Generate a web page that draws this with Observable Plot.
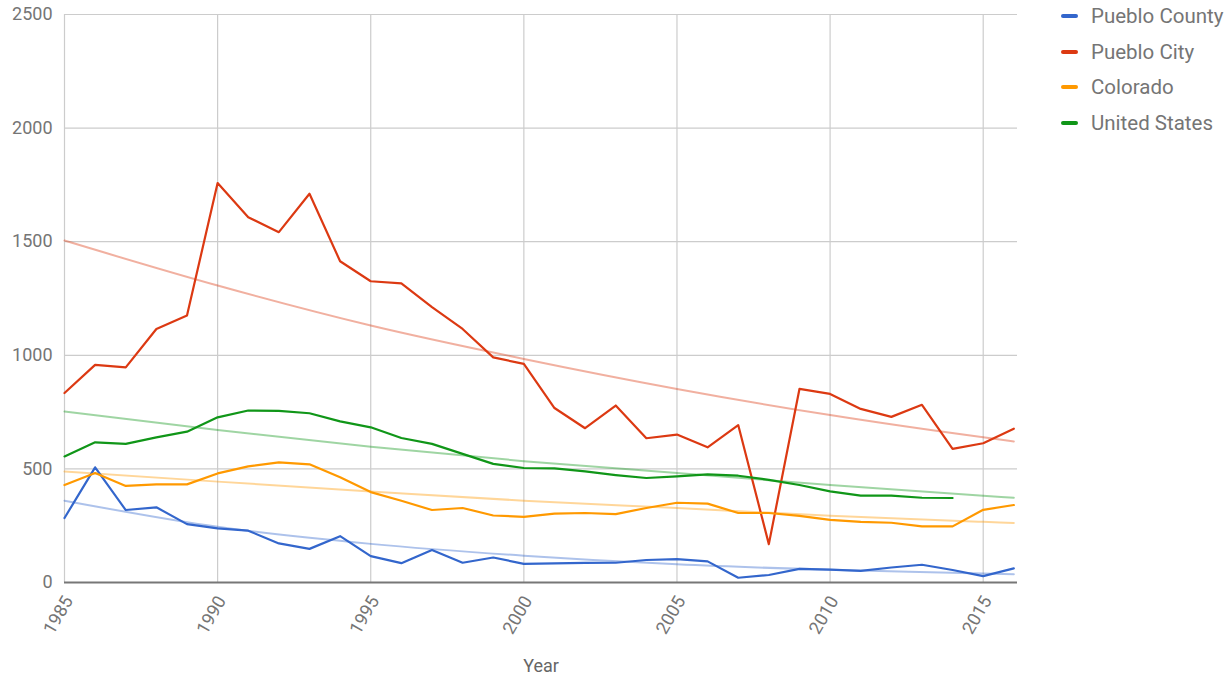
<!DOCTYPE html>
<html>
<head>
<meta charset="utf-8">
<script src="https://cdn.jsdelivr.net/npm/d3@7"></script>
<script src="https://cdn.jsdelivr.net/npm/@observablehq/plot@0.6"></script>
<style>
  body { margin: 0; background: #fff; font-family: Roboto, sans-serif; }
  #wrap { position: relative; width: 1232px; height: 675px; overflow: hidden; }
  #chart { position: absolute; left: 0; top: 0; }
  #legend { position: absolute; left: 1061px; top: -2px; }
  .item { display: flex; align-items: center; height: 35.7px; font-size: 20.5px; color: #757575; white-space: nowrap; }
  .sw { width: 17px; height: 4px; border-radius: 2px; margin-right: 13px; }
</style>
</head>
<body>
<div id="wrap">
  <div id="chart"></div>
  <div id="legend"></div>
</div>
<script>
// ---- Data ----
const years = [1985, 1986, 1987, 1988, 1989, 1990, 1991, 1992, 1993, 1994, 1995, 1996, 1997, 1998, 1999, 2000,
               2001, 2002, 2003, 2004, 2005, 2006, 2007, 2008, 2009, 2010, 2011, 2012, 2013, 2014, 2015, 2016];
const seriesNames = ["Pueblo County", "Pueblo City", "Colorado", "United States"];
const seriesColors = ["#3366cc", "#dc3912", "#ff9900", "#109618"];

const puebloCounty = [284, 507, 319, 331, 257, 238, 228, 172, 148, 204, 116, 85, 143, 87, 110, 82,
                      84, 86, 87, 99, 103, 93, 21, 33, 60, 57, 51, 66, 78, 55, 28, 62];
const puebloCity = [834, 958, 947, 1116, 1175, 1758, 1608, 1542, 1711, 1414, 1326, 1317, 1212, 1116, 991, 962,
                    768, 679, 779, 635, 651, 595, 693, 169, 852, 830, 764, 729, 782, 588, 613, 677];
const colorado = [429, 482, 425, 432, 432, 480, 511, 529, 520, 463, 398, 360, 319, 328, 295, 289,
                  303, 306, 301, 328, 351, 347, 306, 306, 293, 276, 267, 263, 247, 247, 320, 341];
const unitedStates = [555, 617, 610, 639, 664, 727, 757, 755, 745, 709, 683, 636, 610, 566, 522, 504,
                      502, 489, 473, 460, 467, 476, 470, 452, 429, 401, 382, 382, 373, 372, null, null];

// Exponential trendlines, values at these years
const trendYears = [1985, 1990, 1995, 2000, 2005, 2010, 2015, 2016];
const trendPuebloCounty = [360, 245, 170, 118, 80, 56, 40, 36];
const trendPuebloCity = [1505, 1307, 1131, 984, 852, 737, 639, 621];
const trendColorado = [489, 444, 401, 360, 328, 294, 267, 262];
const trendUnitedStates = [753, 671, 598, 534, 482, 429, 382, 373];

const xTicks = [1985, 1990, 1995, 2000, 2005, 2010, 2015];
const yTicks = [0, 500, 1000, 1500, 2000, 2500];
const xLabel = "Year";

// ---- Build tables ----
const seriesValues = [puebloCounty, puebloCity, colorado, unitedStates];
const trendValues = [trendPuebloCounty, trendPuebloCity, trendColorado, trendUnitedStates];
const rows = [];
const trend = [];
seriesNames.forEach((name, s) => {
  years.forEach((yr, i) => {
    const v = seriesValues[s][i];
    if (v != null) rows.push({year: yr, value: v, series: name});
  });
  trendYears.forEach((yr, i) => trend.push({year: yr, value: trendValues[s][i], series: name}));
});

const chart = Plot.plot({
  width: 1045,
  height: 675,
  marginLeft: 64,
  marginRight: 28,
  marginTop: 14,
  marginBottom: 93,
  style: {fontFamily: "Roboto, sans-serif", fontSize: "18px", color: "#757575", background: "white"},
  x: {domain: [1985, 2016.12], axis: null},
  y: {domain: [0, 2500], axis: null},
  color: {domain: seriesNames, range: seriesColors},
  marks: [
    Plot.gridX(xTicks, {stroke: "#cccccc", strokeOpacity: 1, strokeWidth: 1.2}),
    Plot.gridY(yTicks.filter(d => d > 0), {stroke: "#cccccc", strokeOpacity: 1, strokeWidth: 1.2}),
    Plot.axisY(yTicks, {tickSize: 0, tickPadding: 12, label: null, fontSize: 18, fill: "#757575", tickFormat: d => String(d)}),
    Plot.text(xTicks, {x: d => d, text: d => String(d), frameAnchor: "bottom", rotate: -60, textAnchor: "end", lineAnchor: "bottom",
                       dx: 9, dy: 18, fontSize: 18, fill: "#757575"}),
    Plot.text([xLabel], {frameAnchor: "bottom", text: d => d, dy: 89, lineAnchor: "bottom", fontSize: 18, fill: "#666666"}),
    Plot.ruleY([0], {stroke: "#777777", strokeWidth: 2}),
    Plot.line(trend, {x: "year", y: "value", z: "series", stroke: "series", strokeOpacity: 0.4, strokeWidth: 2, curve: "monotone-x"}),
    Plot.line(rows, {x: "year", y: "value", z: "series", stroke: "series", strokeWidth: 2.2})
  ]
});
document.getElementById("chart").appendChild(chart);

// ---- Legend ----
const legend = document.getElementById("legend");
seriesNames.forEach((name, i) => {
  const item = document.createElement("div");
  item.className = "item";
  const sw = document.createElement("span");
  sw.className = "sw";
  sw.style.background = seriesColors[i];
  const t = document.createElement("span");
  t.textContent = name;
  item.appendChild(sw);
  item.appendChild(t);
  legend.appendChild(item);
});
</script>
</body>
</html>
